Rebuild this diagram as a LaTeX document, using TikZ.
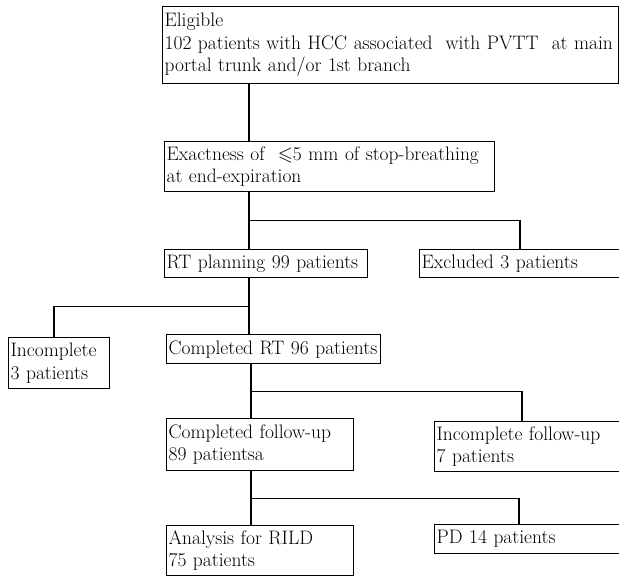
\documentclass[tikz,border=0pt]{standalone}
\usepackage{amsmath, amssymb}
\usetikzlibrary{calc}

\begin{document}
\begin{tikzpicture}[x=1pt, y=-1pt,
    box/.style={draw, line width=1.2pt, anchor=north west,
                align=left, inner xsep=2pt, inner ysep=0pt,
                font=\fontsize{19.5}{22.5}\selectfont},
    link/.style={line width=1.2pt}
  ]
    \useasboundingbox (0,0) rectangle (619,576);
    \node[box, minimum width=456pt, minimum height=77pt, text width=452pt] (elig) at (162,6)
      {Eligible\\102 patients with HCC associated\ \ with PVTT\ \ at main\\portal trunk and/or 1st branch};
    \node[box, minimum width=330pt, minimum height=50pt, text width=326pt] (exact) at (164,141)
      {Exactness of\ \ $\leqslant$5 mm of stop-breathing\\at end-expiration};
    \node[box, minimum width=203pt, minimum height=28pt, text width=199pt] (plan) at (164,249)
      {RT planning 99 patients};
    \node[box, minimum width=220pt, minimum height=28pt, text width=216pt] (excl) at (419,249)
      {Excluded 3 patients};
    \node[box, minimum width=101pt, minimum height=51pt, text width=97pt] (incomp) at (8,337)
      {Incomplete\\3 patients};
    \node[box, minimum width=214pt, minimum height=29pt, text width=210pt] (done) at (166,334)
      {Completed RT 96 patients};
    \node[box, minimum width=187pt, minimum height=52pt, text width=183pt] (fup) at (166,418)
      {Completed follow-up\\89 patientsa};
    \node[box, minimum width=220pt, minimum height=50pt, text width=216pt] (ifup) at (434,421)
      {Incomplete follow-up\\7 patients};
    \node[box, minimum width=187pt, minimum height=50pt, text width=183pt] (rild) at (166,525)
      {Analysis for RILD\\75 patients};
    \node[box, minimum width=220pt, minimum height=29pt, text width=216pt] (pd) at (434,524)
      {PD 14 patients};
    % main trunk
    \draw[link] ([xshift=87pt]elig.south west) coordinate (s0) -- (s0 |- exact.north);
    \draw[link] ([xshift=85pt]exact.south west) coordinate (s1) -- (s1 |- plan.north) coordinate (e1);
    \draw[link] ([xshift=85pt]plan.south west) coordinate (s2) -- (s2 |- done.north) coordinate (e2);
    \draw[link] ([xshift=85pt]done.south west) coordinate (s3) -- (s3 |- fup.north) coordinate (e3);
    \draw[link] ([xshift=85pt]fup.south west) coordinate (s4) -- (s4 |- rild.north) coordinate (e4);
    % side branches
    \draw[link] ($(s1)!0.5!(e1)$) -| ([xshift=101pt]excl.north west);
    \draw[link] ($(s2)!0.5!(e2)$) -| ([xshift=46pt]incomp.north west);
    \draw[link] ($(s3)!0.5!(e3)$) -| ([xshift=88pt]ifup.north west);
    \draw[link] ($(s4)!0.5!(e4)$) -| ([xshift=85pt]pd.north west);
  \end{tikzpicture}
\end{document}
